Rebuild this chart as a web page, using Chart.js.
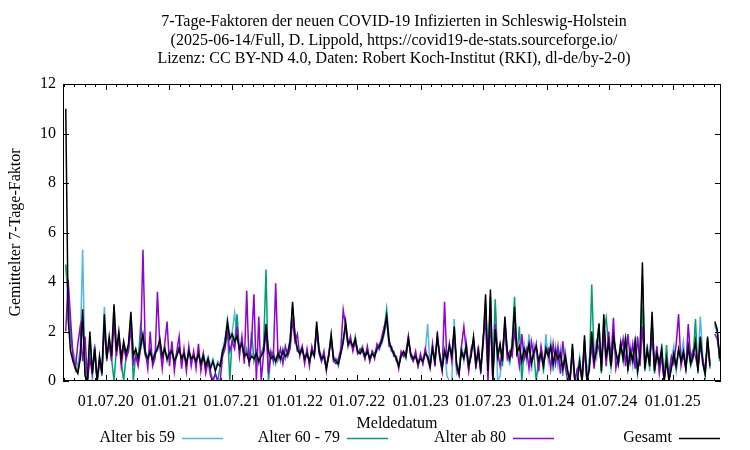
<!DOCTYPE html>
<html>
<head>
<meta charset="utf-8">
<script src="https://cdn.jsdelivr.net/npm/chart.js@4.4.0/dist/chart.umd.min.js"></script>
<style>
  html, body { margin: 0; padding: 0; background: #fff; }
  #chart { display: block; }
</style>
</head>
<body>
<canvas id="chart" width="750" height="450"></canvas>
<script>
// weekly values, first value on startDate
var startDate = '2020-03-07';
var stepDays = 7;

var ageTo59 = [
  4.7, 3.0, 1.8, 1.2, 0.9, 0.6, 1.3, 5.3, 0.5, 0.2,
  1.6, 0, 1.5, 0, 0.8, 0.6, 3.0, 1.0, 1.5, 1.2,
  3.0, 1.4, 1.8, 1.0, 1.5, 1.2, 1.4, 2.6, 1.1, 1.2,
  1.0, 1.3, 1.7, 1.2, 1.0, 1.1, 0.9, 1.2, 1.2, 1.6,
  1.1, 1.2, 1.0, 1.2, 1.1, 0.9, 1.1, 1.2, 1.0, 1.0,
  0.8, 1.1, 1.0, 0.9, 0.9, 1.0, 0.8, 1.1, 0.7, 1.0,
  0.6, 0.9, 0.5, 0.8, 0.7, 1.3, 1.6, 2.5, 1.8, 2.0,
  2.75, 1.7, 1.4, 1.6, 1.1, 1.2, 0.9, 1.1, 1.0, 1.2,
  0.9, 1.1, 1.3, 2.2, 1.3, 1.0, 1.1, 0.9, 1.0, 1.0,
  1.1, 1.1, 1.2, 1.5, 3.0, 1.7, 1.2, 1.1, 1.2, 1.0,
  1.0, 0.9, 1.1, 1.0, 2.2, 1.3, 1.0, 0.9, 0.6, 1.0,
  1.7, 1.0, 0.9, 0.8, 1.1, 1.5, 2.2, 1.4, 1.5, 1.3,
  1.6, 1.2, 1.1, 1.2, 1.0, 1.1, 1.0, 1.1, 1.0, 1.2,
  1.3, 1.5, 1.9, 2.4, 1.5, 1.2, 1.1, 0.9, 0.7, 1.0,
  1.1, 1.0, 1.6, 1.1, 1.0, 0.9, 0.8, 1.0, 0.9, 1.2,
  2.3, 0.5, 1.4, 0.7, 1.6, 1.1, 0.4, 1.3, 0.2, 0,
  0, 2.5, 0.3, 0.5, 1.4, 0.8, 1.6, 0.5, 1.2, 1.6,
  0.8, 1.0, 0.4, 1.5, 3.2, 0.5, 3.4, 0.3, 3.0, 0,
  0.2, 1.0, 2.4, 1.0, 0.7, 1.6, 2.6, 1.2, 1.0, 0.6,
  1.5, 0.8, 1.9, 0.4, 1.5, 1.2, 0.5, 1.3, 0.3, 1.9,
  0.8, 1.6, 0.4, 1.4, 0.6, 1.3, 0.2, 1.2, 0.5, 0,
  1.4, 0, 0.4, 1.0, 0, 1.6, 0.3, 0.9, 1.8, 1.2,
  0.9, 2.0, 0.6, 2.4, 1.0, 1.4, 0.5, 1.5, 1.0, 0.6,
  1.3, 1.1, 1.5, 0.7, 1.4, 0.6, 1.8, 0.5, 1.1, 4.2,
  0.6, 1.5, 0.4, 2.4, 0.7, 1.3, 0.5, 1.5, 0.2, 1.2,
  0, 0.8, 1.4, 0.4, 1.2, 1.0, 1.6, 0.4, 1.5, 0.9,
  1.3, 1.4, 0.6, 2.6, 1.0, 0.2, 1.6, 0.8, null, 2.2,
  2.0, 1.0
];

var age60to79 = [
  4.7, 3.5, 2.0, 1.0, 0.6, 0.4, 1.0, 2.4, 0.3, 0,
  1.8, 0.5, 1.1, 0, 0.9, 0.2, 2.3, 0.8, 1.6, 0.9,
  0, 1.3, 1.7, 0.8, 0, 1.0, 1.3, 2.4, 0, 1.1,
  0.8, 2.2, 1.6, 1.0, 0.8, 1.3, 0.9, 1.0, 1.4, 1.5,
  0.9, 1.4, 0.8, 1.2, 1.3, 0.7, 1.1, 1.4, 0.8, 1.2,
  0.6, 1.3, 0.8, 1.1, 0.7, 1.2, 0.6, 1.1, 0.5, 0.9,
  0.4, 0, 0.3, 0, 0.6, 1.1, 1.7, 2.2, 0, 1.8,
  1.5, 2.7, 1.2, 1.6, 0.9, 1.3, 0.7, 2.0, 0.8, 1.2,
  0.7, 1.1, 1.4, 4.5, 0, 1.0, 1.2, 0.7, 1.2, 0.8,
  1.3, 0.9, 1.2, 1.7, 3.0, 1.9, 1.2, 1.2, 1.4, 0.8,
  1.2, 0.7, 1.3, 1.1, 2.2, 1.3, 0.8, 1.1, 0.6, 1.1,
  1.9, 0.8, 0.9, 0.6, 1.2, 1.7, 2.2, 1.6, 1.7, 1.3,
  1.8, 1.1, 1.2, 1.4, 0.9, 1.3, 0.8, 1.2, 1.1, 1.4,
  1.5, 1.7, 2.1, 2.9, 1.7, 1.2, 1.2, 0.8, 0.7, 1.1,
  1.1, 0.9, 1.8, 1.0, 0.8, 1.1, 0.6, 1.0, 0.7, 1.2,
  0.9, 0.7, 1.4, 0.9, 1.7, 1.1, 0.6, 1.3, 0.8, 1.5,
  1.1, 1.9, 0.6, 0.4, 1.3, 1.0, 1.5, 0.5, 1.1, 1.7,
  0.6, 1.3, 0.4, 1.5, 3.0, 0.3, 3.4, 0.2, 3.3, 0.9,
  1.4, 0.6, 2.4, 1.1, 0.8, 1.5, 3.4, 1.0, 2.2, 0,
  1.2, 0.9, 1.4, 0.8, 1.1, 0, 0.9, 1.2, 0.5, 1.4,
  1.1, 1.3, 0.6, 1.3, 0.8, 1.2, 0.4, 1.1, 0.3, 0,
  1.3, 0, 0, 0.7, 0, 1.6, 0, 0.4, 3.9, 0.9,
  1.3, 2.35, 0.3, 2.0, 2.55, 1.4, 0.5, 1.9, 1.1, 0.8,
  1.6, 0.8, 1.8, 0.4, 1.3, 0.9, 1.5, 0.3, 1.1, 3.0,
  0.4, 1.2, 0.7, 2.4, 0.3, 1.0, 0.8, 1.2, 0, 1.45,
  0, 0.6, 1.0, 0.5, 1.2, 0.9, 1.1, 0.6, 1.3, 0.6,
  0.9, 2.5, 0.3, 1.7, 0.8, 0.2, 1.7, 0.5, null, 2.3,
  2.0, 0.8
];

var age80plus = [
  2.0, 4.1, 2.5, 1.0, 0.5, 1.5, 2.2, 0.8, 1.8, 0,
  0.9, 0.3, 1.4, 0, 0.7, 0.4, 2.2, 1.0, 1.5, 0.8,
  2.4, 1.0, 1.8, 0.6, 1.4, 0.9, 1.2, 2.2, 0.7, 1.0,
  0.6, 1.3, 5.3, 1.2, 0.5, 2.0, 0.6, 0.9, 3.6, 1.4,
  0.5, 1.5, 2.4, 0.6, 1.6, 0.4, 1.2, 1.8, 0.5, 1.3,
  0.4, 1.4, 0.6, 1.2, 0.5, 1.5, 0.4, 1.1, 0.3, 0.8,
  0.2, 0, 0.3, 0, 0, 1.0, 1.3, 2.0, 1.2, 1.6,
  1.3, 2.2, 1.0, 1.8, 0.7, 3.65, 0.6, 1.6, 3.5, 0,
  2.6, 0, 1.1, 2.0, 0.3, 1.2, 0.8, 3.95, 0.9, 1.3,
  0.7, 1.4, 1.0, 1.3, 2.5, 1.6, 1.9, 1.0, 1.4, 0.7,
  1.3, 0.6, 1.4, 1.0, 2.0, 1.1, 0.8, 1.2, 0.4, 1.1,
  1.7, 0.8, 0.7, 0.9, 1.3, 2.87, 2.2, 1.4, 1.8, 1.2,
  1.6, 1.1, 1.3, 1.2, 0.9, 1.4, 0.8, 1.2, 0.9, 1.5,
  1.3, 1.8, 2.2, 2.6, 1.4, 1.4, 1.0, 1.0, 0.5, 1.2,
  1.0, 1.2, 1.8, 1.0, 0.8, 1.2, 0.6, 1.1, 0.7, 1.3,
  0.9, 0.5, 1.5, 0.6, 2.0, 0.9, 0.4, 3.2, 0.7, 1.5,
  0.8, 2.0, 0.5, 0.2, 1.4, 2.2, 1.2, 0.4, 1.3, 1.6,
  0.5, 1.4, 0.3, 1.8, 2.4, 0, 2.6, 0, 2.3, 1.2,
  0.6, 1.3, 2.1, 0.9, 1.2, 1.0, 2.0, 1.3, 0.6, 1.9,
  0.9, 1.3, 0.5, 1.6, 1.0, 1.5, 0.4, 1.4, 0.8, 1.1,
  1.3, 0.5, 1.5, 0.7, 1.4, 0.3, 1.6, 0.6, 0, 0.2,
  1.0, 0, 0.5, 0.6, 0, 1.3, 0, 0.6, 1.4, 0.5,
  1.6, 1.3, 0.7, 1.9, 0.6, 2.0, 0.9, 2.55, 0.5, 1.0,
  1.2, 1.7, 0.6, 1.9, 0.8, 1.5, 0.5, 1.8, 0.6, 2.2,
  0.7, 1.1, 0.9, 1.8, 0.5, 1.4, 0.3, 1.0, 0, 0.7,
  0.3, 1.0, 0.7, 1.5, 2.7, 0.6, 1.1, 0.5, 2.3, 0.9,
  1.2, 1.0, 0.5, 1.4, 0.9, 0.4, 1.5, 0.7, null, 1.9,
  1.7, 1.1
];

var total = [
  11.0, 2.5, 1.2, 0.8, 0.5, 0.3, 0.9, 2.9, 0.2, 0,
  2.0, 0.3, 1.3, 0, 1.0, 0.3, 2.7, 0.9, 1.8, 1.0,
  3.1, 1.2, 2.0, 0.9, 1.6, 1.1, 1.5, 2.8, 1.0, 1.3,
  0.9, 1.4, 1.9, 1.1, 0.9, 1.2, 0.8, 1.1, 1.3, 1.7,
  1.0, 1.3, 0.9, 1.1, 1.2, 0.8, 1.0, 1.3, 0.9, 1.1,
  0.7, 1.2, 0.9, 1.0, 0.8, 1.1, 0.7, 1.0, 0.6, 0.9,
  0.5, 0.8, 0.4, 0.7, 0.6, 1.2, 1.5, 2.4, 1.7, 1.9,
  1.6, 1.8, 1.3, 1.5, 1.0, 1.1, 0.8, 1.0, 0.9, 1.1,
  0.8, 1.0, 1.2, 2.3, 1.2, 0.9, 1.0, 0.8, 1.1, 0.9,
  1.2, 1.0, 1.1, 1.6, 3.2, 1.8, 1.3, 1.1, 1.3, 0.9,
  1.1, 0.8, 1.2, 1.0, 2.4, 1.2, 0.9, 1.0, 0.5, 1.0,
  1.85, 0.9, 0.8, 0.7, 1.1, 1.6, 2.4, 1.5, 1.6, 1.4,
  1.7, 1.2, 1.1, 1.3, 1.0, 1.2, 0.9, 1.1, 1.0, 1.3,
  1.4, 1.6, 2.0, 2.6, 1.6, 1.3, 1.1, 0.9, 0.6, 1.0,
  1.2, 1.0, 1.7, 1.1, 0.9, 1.0, 0.7, 0.9, 0.8, 1.1,
  1.0, 0.6, 1.3, 0.8, 1.8, 1.0, 0.5, 1.2, 0.9, 1.4,
  1.0, 2.2, 0.7, 0.3, 1.2, 0.9, 1.4, 0.6, 1.0, 1.8,
  0.7, 1.2, 0.5, 1.6, 3.5, 0.4, 3.7, 0, 2.1, 1.0,
  1.5, 0.8, 2.6, 1.2, 0.9, 1.4, 3.0, 1.1, 1.4, 0.8,
  1.3, 1.0, 1.5, 0.7, 1.2, 1.4, 0.8, 1.1, 0.6, 1.3,
  1.0, 1.4, 0.7, 1.2, 0.9, 1.1, 0.5, 1.0, 0.4, 0,
  1.5, 0, 0, 0.8, 0, 1.85, 0, 0.5, 2.0, 0.8,
  1.2, 2.3, 0.4, 2.7, 0.9, 1.6, 0.6, 1.8, 1.2, 0.7,
  1.5, 0.9, 1.7, 0.5, 1.2, 0.8, 1.6, 0.4, 1.0, 4.8,
  0.5, 1.3, 0.6, 2.8, 0.4, 1.1, 0.7, 1.3, 0, 0.9,
  0, 0.5, 1.1, 0.6, 1.3, 0.8, 1.2, 0.5, 1.4, 0.7,
  1.0, 1.6, 0.4, 1.8, 0.7, 0.3, 1.8, 0.6, null, 2.4,
  2.1, 0.9
];

var tickDates = ['2020-07-01', '2021-01-01', '2021-07-01', '2022-01-01', '2022-07-01',
                 '2023-01-01', '2023-07-01', '2024-01-01', '2024-07-01', '2025-01-01'];
var tickLabels = ['01.07.20', '01.01.21', '01.07.21', '01.01.22', '01.07.22',
                  '01.01.23', '01.07.23', '01.01.24', '01.07.24', '01.01.25'];
var yTicks = [0, 2, 4, 6, 8, 10, 12];

var seriesNames = ['Alter bis 59', 'Alter 60 - 79', 'Alter ab 80', 'Gesamt'];
var seriesColors = ['#56b4e9', '#009e73', '#9400d3', '#000000'];

var titleLines = [
    '7-Tage-Faktoren der neuen COVID-19 Infizierten in Schleswig-Holstein',
    '(2025-06-14/Full, D. Lippold, https://covid19-de-stats.sourceforge.io/',
    'Lizenz: CC BY-ND 4.0, Daten: Robert Koch-Institut (RKI), dl-de/by-2-0)'
];
var xTitle = 'Meldedatum';
var yTitle = 'Gemittelter 7-Tage-Faktor';

var FONT = '"Liberation Serif", "Times New Roman", serif';

function dayNo(s) {
    var p = s.split('-');
    return (Date.UTC(+p[0], +p[1] - 1, +p[2]) - Date.UTC(2020, 0, 1)) / 86400000;
}

function toPoints(values) {
    var d0 = dayNo(startDate);
    return values.map(function (v, i) {
        return { x: d0 + i * stepDays, y: v };
    });
}

var allSeries = [ageTo59, age60to79, age80plus, total];

var datasets = allSeries.map(function (vals, k) {
    return {
        label: seriesNames[k],
        data: toPoints(vals),
        borderColor: seriesColors[k],
        borderWidth: 1.5,
        pointRadius: 0,
        tension: 0,
        spanGaps: false,
        order: 3 - k
    };
});

var gnuplotLook = {
    id: 'gnuplotLook',
    afterDraw: function (chart) {
        var ctx = chart.ctx;
        var a = chart.chartArea;
        var xs = chart.scales.x;
        var ys = chart.scales.y;
        ctx.save();
        ctx.strokeStyle = '#000';
        ctx.lineWidth = 1;

        // frame
        ctx.strokeRect(a.left + 0.5, a.top + 0.5, a.right - a.left - 1, a.bottom - a.top - 1);

        ctx.beginPath();
        // y ticks, both sides
        yTicks.forEach(function (v) {
            var y = Math.round(ys.getPixelForValue(v)) + 0.5;
            ctx.moveTo(a.left, y); ctx.lineTo(a.left + 6, y);
            ctx.moveTo(a.right, y); ctx.lineTo(a.right - 6, y);
        });
        // monthly minor ticks, longer ones on the half years
        for (var yr = 2020; yr <= 2025; yr++) {
            for (var m = 1; m <= 12; m++) {
                var d = dayNo(yr + '-' + m + '-1');
                if (d < xs.min || d > xs.max) continue;
                var len = (m === 1 || m === 7) ? 6 : 3;
                var x = Math.round(xs.getPixelForValue(d)) + 0.5;
                ctx.moveTo(x, a.bottom); ctx.lineTo(x, a.bottom - len);
                ctx.moveTo(x, a.top); ctx.lineTo(x, a.top + len);
            }
        }
        ctx.stroke();

        ctx.fillStyle = '#000';
        ctx.font = '16px ' + FONT;
        ctx.textAlign = 'center';
        ctx.textBaseline = 'middle';
        var cx = (a.left + a.right) / 2;
        titleLines.forEach(function (t, i) {
            ctx.fillText(t, cx + 2, 22 + i * 18.5);
        });
        ctx.fillText(xTitle, cx + 5, 424);

        ctx.save();
        ctx.translate(16, (a.top + a.bottom) / 2);
        ctx.rotate(-Math.PI / 2);
        ctx.fillText(yTitle, 0, 0);
        ctx.restore();

        // legend, gnuplot style: text first, sample line after it
        var lineStarts = [182, 347, 513, 679];
        ctx.textAlign = 'right';
        seriesNames.forEach(function (name, k) {
            var lx = lineStarts[k];
            ctx.fillStyle = '#000';
            ctx.fillText(name, lx - 7, 438);
            ctx.beginPath();
            ctx.strokeStyle = seriesColors[k];
            ctx.lineWidth = 1.5;
            ctx.moveTo(lx, 438.5);
            ctx.lineTo(lx + 41, 438.5);
            ctx.stroke();
        });
        ctx.restore();
    }
};

var ctx = document.getElementById('chart').getContext('2d');
var chart = new Chart(ctx, {
    type: 'line',
    data: { datasets: datasets },
    options: {
        responsive: false,
        animation: false,
        devicePixelRatio: 1,
        layout: { padding: { top: 84, right: 29, bottom: 29, left: 0 } },
        plugins: {
            legend: { display: false },
            title: { display: false },
            tooltip: { enabled: false }
        },
        scales: {
            x: {
                type: 'linear',
                min: dayNo('2020-02-28'),
                max: dayNo('2025-05-21'),
                grid: { display: false, drawTicks: false },
                border: { display: false },
                afterBuildTicks: function (scale) {
                    scale.ticks = tickDates.map(function (d) { return { value: dayNo(d) }; });
                },
                afterFit: function (scale) { scale.height = 40; },
                ticks: {
                    autoSkip: false,
                    maxRotation: 0,
                    padding: 11,
                    color: '#000',
                    font: { family: FONT, size: 16 },
                    callback: function (v, i) { return tickLabels[i]; }
                }
            },
            y: {
                min: 0,
                max: 12,
                grid: { display: false, drawTicks: false },
                border: { display: false },
                afterFit: function (scale) { scale.width = 63; },
                ticks: {
                    stepSize: 2,
                    padding: 7,
                    color: '#000',
                    font: { family: FONT, size: 16 }
                }
            }
        }
    },
    plugins: [gnuplotLook]
});
</script>
</body>
</html>
